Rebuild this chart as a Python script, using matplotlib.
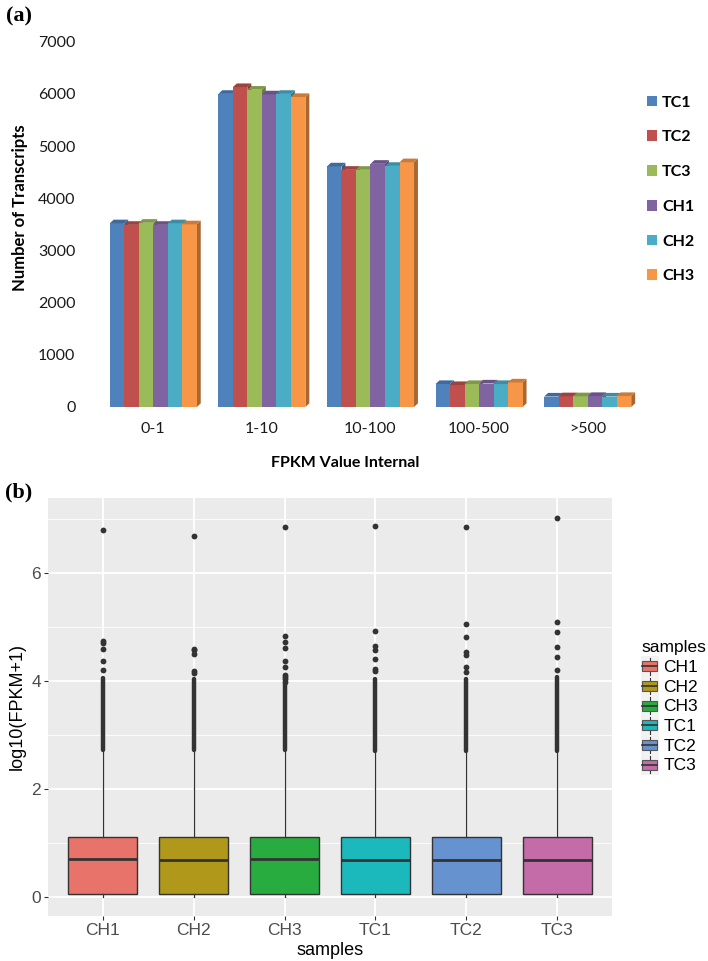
import numpy as np
import matplotlib
matplotlib.use("Agg")
import matplotlib.pyplot as plt
from matplotlib.patches import Patch, Polygon, Rectangle
from matplotlib.lines import Line2D
from matplotlib.legend_handler import HandlerBase
from matplotlib.colors import to_rgb

# ---- panel (a): transcripts per FPKM interval ----
intervals = ["0-1", "1-10", "10-100", "100-500", ">500"]
bar_series = ["TC1", "TC2", "TC3", "CH1", "CH2", "CH3"]
tc1 = [3520, 6000, 4610, 440, 200]
tc2 = [3490, 6130, 4545, 420, 205]
tc3 = [3530, 6080, 4545, 440, 205]
ch1 = [3490, 5990, 4660, 450, 210]
ch2 = [3520, 6000, 4620, 440, 200]
ch3 = [3500, 5940, 4690, 470, 210]
bar_colors = ["#4F81BD", "#C0504D", "#9BBB59", "#8064A2", "#4BACC6", "#F79646"]

# ---- panel (b): log10(FPKM+1) distributions ----
samples = ["CH1", "CH2", "CH3", "TC1", "TC2", "TC3"]
box_q1 = [0.06, 0.06, 0.06, 0.06, 0.06, 0.06]
box_med = [0.70, 0.69, 0.71, 0.69, 0.69, 0.68]
box_q3 = [1.12, 1.12, 1.12, 1.12, 1.11, 1.12]
whisk_lo = [0.0, 0.0, 0.0, 0.0, 0.0, 0.0]
whisk_hi = [2.70, 2.70, 2.70, 2.68, 2.68, 2.68]
dense_lo = [2.73, 2.73, 2.73, 2.71, 2.71, 2.71]
dense_hi = [4.06, 4.03, 3.95, 4.03, 4.03, 4.08]
out_ch1 = [6.79, 4.74, 4.71, 4.60, 4.37, 4.20]
out_ch2 = [6.69, 4.60, 4.57, 4.50, 4.18, 4.15]
out_ch3 = [6.86, 4.83, 4.73, 4.62, 4.37, 4.26, 4.12, 4.07, 4.03, 3.99]
out_tc1 = [6.88, 4.92, 4.65, 4.58, 4.40, 4.23, 4.18]
out_tc2 = [6.86, 5.06, 4.82, 4.54, 4.49, 4.26, 4.17]
out_tc3 = [7.02, 5.10, 4.91, 4.63, 4.45, 4.20]
box_colors = ["#E8736A", "#AF981A", "#28AC40", "#1BB8BC", "#6693CF", "#C36CA8"]

W, H = 708, 961
fig = plt.figure(figsize=(W / 100, H / 100), dpi=100)


def shade(c, f):
    r, g, b = to_rgb(c)
    return (r * f, g * f, b * f)


# ---------------- (a) ----------------
ax1 = fig.add_axes([99 / W, 1 - 407 / H, 543 / W, (407 - 41.7) / H])
vals = np.array([tc1, tc2, tc3, ch1, ch2, ch3])
x = np.arange(len(intervals))
bw = 0.1336
dx, dy = 0.036, 70
for j in range(len(bar_series)):
    xs = x + (j - 2.5) * bw
    ax1.bar(xs, vals[j], width=bw, color=bar_colors[j], zorder=3 + j * 3, linewidth=0)
    for xi, h in zip(xs - bw / 2, vals[j]):
        top = Polygon([(xi, h), (xi + bw, h), (xi + bw + dx, h + dy), (xi + dx, h + dy)],
                      closed=True, facecolor=shade(bar_colors[j], 0.82), edgecolor="none",
                      zorder=4 + j * 3)
        side = Polygon([(xi + bw, 0), (xi + bw + dx, dy), (xi + bw + dx, h + dy), (xi + bw, h)],
                       closed=True, facecolor=shade(bar_colors[j], 0.68), edgecolor="none",
                       zorder=2 + j * 3)
        ax1.add_patch(top)
        ax1.add_patch(side)

ax1.set_xlim(-0.5, 4.5)
ax1.set_ylim(0, 7000)
ax1.set_yticks(range(0, 7001, 1000))
ax1.set_xticks(x)
ax1.set_xticklabels(intervals)
for s in ax1.spines.values():
    s.set_visible(False)
ax1.tick_params(axis="y", length=0, pad=17, labelsize=11.5, labelcolor="#1a1a1a")
ax1.tick_params(axis="x", length=0, pad=11, labelsize=11.5, labelcolor="#1a1a1a")
for t in ax1.get_xticklabels() + ax1.get_yticklabels():
    t.set_family("Lato")

fig.text(345 / W, 1 - 463 / H, "FPKM Value Internal", ha="center", va="center",
         family="Lato", weight="bold", fontsize=11.5)
fig.text(20 / W, 1 - 208 / H, "Number of Transcripts", ha="center", va="center",
         rotation=90, family="Lato", weight="bold", fontsize=12)

handles = [Patch(facecolor=c, edgecolor="none") for c in bar_colors]
fig.legend(handles, bar_series, loc="center left", bbox_to_anchor=(647 / W, 1 - 189.5 / H),
           frameon=False, borderpad=0, borderaxespad=0, handlelength=0.65, handleheight=0.65,
           handletextpad=0.3, labelspacing=1.3, prop={"family": "Lato", "weight": "bold", "size": 11.5})

fig.text(19 / W, 1 - 16 / H, "(a)", ha="center", va="center", family="Liberation Serif",
         weight="bold", fontsize=16)

# ---------------- (b) ----------------
ax2 = fig.add_axes([48 / W, 1 - 916 / H, 564 / W, (916 - 498) / H])
ax2.set_facecolor("#EBEBEB")
outs = [out_ch1, out_ch2, out_ch3, out_tc1, out_tc2, out_tc3]
stats = []
for i, name in enumerate(samples):
    stats.append(dict(label=name, med=box_med[i], q1=box_q1[i], q3=box_q3[i],
                      whislo=whisk_lo[i], whishi=whisk_hi[i], fliers=outs[i]))
pos = np.arange(1, len(samples) + 1)
bp = ax2.bxp(stats, positions=pos, widths=0.76, patch_artist=True, showcaps=False,
             boxprops=dict(edgecolor="#333333", linewidth=1.0),
             medianprops=dict(color="#333333", linewidth=2.0),
             whiskerprops=dict(color="#333333", linewidth=0.9),
             flierprops=dict(marker="o", markersize=4.2, markerfacecolor="#333333",
                             markeredgecolor="none"))
for patch, c in zip(bp["boxes"], box_colors):
    patch.set_facecolor(c)
for art in bp["boxes"] + bp["medians"] + bp["whiskers"] + bp["fliers"]:
    art.set_zorder(3)
ax2.vlines(pos, dense_lo, dense_hi, colors="#333333", linewidth=3.2, zorder=3,
           capstyle="round")

ax2.set_xlim(0.4, 6.6)
ax2.set_ylim(-0.35, 7.39)
ax2.set_yticks([0, 2, 4, 6])
ax2.set_yticks([1, 3, 5, 7], minor=True)
ax2.set_xticks(pos)
ax2.set_xticklabels(samples)
ax2.set_axisbelow(True)
ax2.grid(which="major", color="white", linewidth=1.3)
ax2.grid(which="minor", axis="y", color="white", linewidth=0.6)
for s in ax2.spines.values():
    s.set_visible(False)
ax2.tick_params(which="major", length=3, width=0.8, color="#333333", labelsize=12.5,
                labelcolor="#4D4D4D", pad=2)
ax2.tick_params(which="minor", length=0)
for t in ax2.get_xticklabels() + ax2.get_yticklabels():
    t.set_family("Liberation Sans")
ax2.set_xlabel("samples", family="Liberation Sans", fontsize=13, labelpad=3)
ax2.set_ylabel("log10(FPKM+1)", family="Liberation Sans", fontsize=13, labelpad=4)


class BoxKey(HandlerBase):
    def create_artists(self, legend, orig_handle, xdescent, ydescent, width, height,
                       fontsize, trans):
        x0, y0 = -xdescent, -ydescent
        bg = Rectangle((x0, y0 - 1.5), width, height + 3, facecolor="#F2F2F2",
                       edgecolor="none", transform=trans)
        cx = x0 + width / 2
        wl = Line2D([cx, cx], [y0, y0 + height], color="#333333", lw=0.8,
                    transform=trans)
        box = Rectangle((x0 + width * 0.08, y0 + height * 0.2), width * 0.84, height * 0.6,
                        facecolor=orig_handle.get_facecolor(), edgecolor="#555555", lw=0.8,
                        transform=trans)
        med = Line2D([x0 + width * 0.08, x0 + width * 0.92], [y0 + height / 2] * 2,
                     color="#333333", lw=1.2, transform=trans)
        return [bg, wl, box, med]


box_handles = [Patch(facecolor=c) for c in box_colors]
leg = fig.legend(box_handles, samples, title="samples", loc="center left",
                 bbox_to_anchor=(641 / W, 1 - 707 / H), frameon=False, borderpad=0,
                 borderaxespad=0, handlelength=1.03, handleheight=1.1, handletextpad=0.25,
                 labelspacing=0.14, alignment="left",
                 handler_map={Patch: BoxKey()},
                 prop={"family": "Liberation Sans", "size": 12.5},
                 title_fontproperties={"family": "Liberation Sans", "size": 12.5})

fig.text(19 / W, 1 - 492 / H, "(b)", ha="center", va="center", family="Liberation Serif",
         weight="bold", fontsize=16)

fig.savefig("out.png", dpi=100)
